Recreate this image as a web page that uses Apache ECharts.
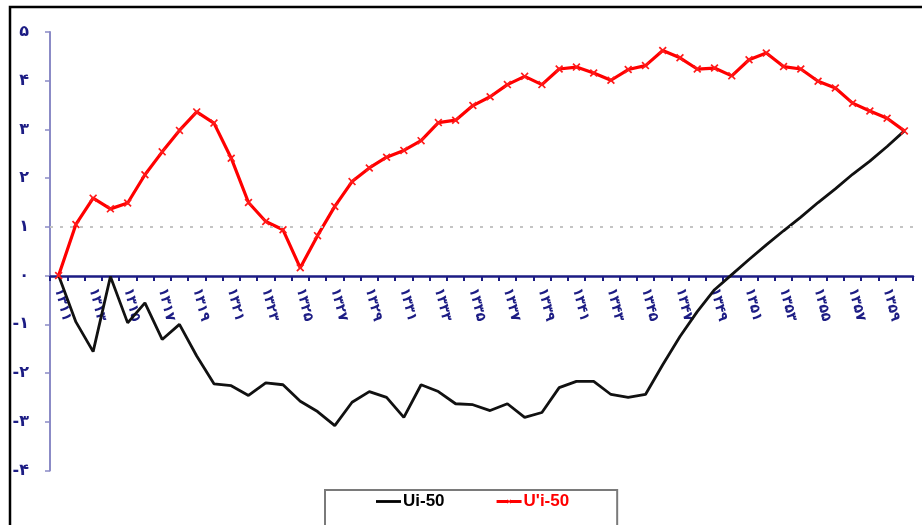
<!DOCTYPE html>
<html>
<head>
<meta charset="utf-8">
<script src="https://cdn.jsdelivr.net/npm/echarts@6/dist/echarts.min.js"></script>
<style>
html,body{margin:0;padding:0;background:#fff;}
#chart{width:922px;height:525px;}
</style>
</head>
<body>
<div id="chart"></div>
<script>
// x categories (years, Persian digits)
var years = ['۱۳۱۱','۱۳۱۲','۱۳۱۳','۱۳۱۴','۱۳۱۵','۱۳۱۶','۱۳۱۷','۱۳۱۸','۱۳۱۹','۱۳۲۰',
             '۱۳۲۱','۱۳۲۲','۱۳۲۳','۱۳۲۴','۱۳۲۵','۱۳۲۶','۱۳۲۷','۱۳۲۸','۱۳۲۹','۱۳۳۰',
             '۱۳۳۱','۱۳۳۲','۱۳۳۳','۱۳۳۴','۱۳۳۵','۱۳۳۶','۱۳۳۷','۱۳۳۸','۱۳۳۹','۱۳۴۰',
             '۱۳۴۱','۱۳۴۲','۱۳۴۳','۱۳۴۴','۱۳۴۵','۱۳۴۶','۱۳۴۷','۱۳۴۸','۱۳۴۹','۱۳۵۰',
             '۱۳۵۱','۱۳۵۲','۱۳۵۳','۱۳۵۴','۱۳۵۵','۱۳۵۶','۱۳۵۷','۱۳۵۸','۱۳۵۹','۱۳۶۰'];

// Ui-50 (black)
var ui = [0.00, -0.95, -1.56, -0.02, -0.97, -0.56, -1.31, -1.00, -1.65, -2.22,
          -2.26, -2.46, -2.20, -2.24, -2.58, -2.79, -3.08, -2.60, -2.38, -2.50,
          -2.91, -2.24, -2.38, -2.63, -2.65, -2.77, -2.63, -2.91, -2.81, -2.30,
          -2.17, -2.17, -2.44, -2.50, -2.44, -1.83, -1.25, -0.74, -0.29, 0.02,
          0.33, 0.63, 0.92, 1.20, 1.50, 1.78, 2.08, 2.35, 2.65, 2.97];

// U'i-50 (red)
var uiPrime = [0.00, 1.05, 1.59, 1.37, 1.49, 2.07, 2.54, 2.98, 3.36, 3.13,
               2.41, 1.50, 1.11, 0.94, 0.16, 0.82, 1.42, 1.93, 2.21, 2.43,
               2.57, 2.77, 3.14, 3.19, 3.49, 3.67, 3.92, 4.09, 3.92, 4.24,
               4.28, 4.16, 4.01, 4.23, 4.31, 4.62, 4.47, 4.24, 4.26, 4.10,
               4.43, 4.57, 4.29, 4.24, 3.99, 3.85, 3.54, 3.38, 3.23, 2.97];

// y tick labels
var yTicks = [-4, -3, -2, -1, 0, 1, 2, 3, 4, 5];
var yTickLabels = ['-۴', '-۳', '-۲', '-۱', '۰', '۱', '۲', '۳', '۴', '۵'];

var seriesNames = ['Ui-50', "U'i-50"];
var refLine = 1;

var navy = '#1c1c84';
var xMark = 'path://M0,1.5L1.5,0L5,3.5L8.5,0L10,1.5L6.5,5L10,8.5L8.5,10L5,6.5L1.5,10L0,8.5L3.5,5Z';
var chart = echarts.init(document.getElementById('chart'));
chart.setOption({
  animation: false,
  backgroundColor: '#ffffff',
  grid: [
    {left: 50, right: 9, top: 32, bottom: 54.5},
    // upper half grid: its bottom edge sits on y = 0, carries the category axis
    {left: 50, right: 9, top: 32, bottom: 249}
  ],
  graphic: [{
    type: 'rect', silent: true, z: 100,
    shape: {x: 10, y: 7, width: 1000, height: 1000},
    style: {fill: 'none', stroke: '#000', lineWidth: 2.5}
  }],
  legend: {
    left: 325, top: 490,
    padding: [3, 48, 30, 51],
    itemGap: 52,
    itemWidth: 25, itemHeight: 10,
    borderColor: '#7a7a7a', borderWidth: 2,
    data: [
      {name: seriesNames[0], icon: 'path://M0,3.6L25,3.6L25,6.4L0,6.4Z', itemStyle: {color: '#000'}, textStyle: {color: '#000'}},
      {name: seriesNames[1], icon: 'path://M0,3.6L10.5,3.6L11,3L12.5,4.3L14,3L14.5,3.6L25,3.6L25,6.4L14.5,6.4L14,7L12.5,5.7L11,7L10.5,6.4L0,6.4Z', itemStyle: {color: '#ff0000'}, textStyle: {color: '#ff0000'}}
    ],
    textStyle: {fontFamily: 'Liberation Sans, Arial', fontWeight: 'bold', fontSize: 17, padding: [0, 0, 0, -3]}
  },
  xAxis: [
    {
      type: 'category', gridIndex: 0, data: years, boundaryGap: true,
      axisLine: {show: false}, axisTick: {show: false}, axisLabel: {show: false},
      splitLine: {show: false}
    },
    {
      type: 'category', gridIndex: 1, data: years, boundaryGap: true, position: 'bottom',
      axisLine: {show: true, onZero: false, lineStyle: {color: navy, width: 2.5}},
      axisTick: {show: true, interval: 0, length: 5, lineStyle: {color: navy, width: 2}},
      axisLabel: {
        interval: 1, rotate: -76, margin: 12,
        color: navy, fontSize: 14, fontWeight: 'bold',
        fontFamily: 'DejaVu Sans'
      },
      splitLine: {show: false}
    }
  ],
  yAxis: [
    {
      type: 'value', gridIndex: 0,
      min: -4, max: 5, interval: 1,
      axisLine: {show: true, lineStyle: {color: '#8b8bc6', width: 2}},
      axisTick: {show: true, length: 5, lineStyle: {color: '#8b8bc6', width: 1.5}},
      axisLabel: {
        margin: 21,
        color: navy, fontSize: 16, fontWeight: 'bold', fontFamily: 'DejaVu Sans',
        formatter: function (v) {
          var i = yTicks.indexOf(Math.round(v));
          return i >= 0 ? yTickLabels[i] : '';
        }
      },
      splitLine: {show: false}
    },
    {
      type: 'value', gridIndex: 1, min: 0, max: 5, show: false,
      splitLine: {show: false}
    }
  ],
  series: [
    {
      name: seriesNames[0], type: 'line', data: ui,
      xAxisIndex: 0, yAxisIndex: 0,
      showSymbol: false, symbol: 'none',
      lineStyle: {color: '#111', width: 2.8},
      itemStyle: {color: '#111'},
      markLine: {
        silent: true, symbol: 'none',
        label: {show: false},
        lineStyle: {color: '#c4c4c4', type: [3, 7], width: 2},
        data: [{yAxis: refLine}]
      },
      z: 2
    },
    {
      name: seriesNames[1], type: 'line', data: uiPrime,
      xAxisIndex: 0, yAxisIndex: 0,
      symbol: xMark,
      symbolSize: 8,
      lineStyle: {color: '#ff0000', width: 3.2},
      itemStyle: {color: '#ff1a1a'},
      z: 3
    }
  ]
});
</script>
</body>
</html>
